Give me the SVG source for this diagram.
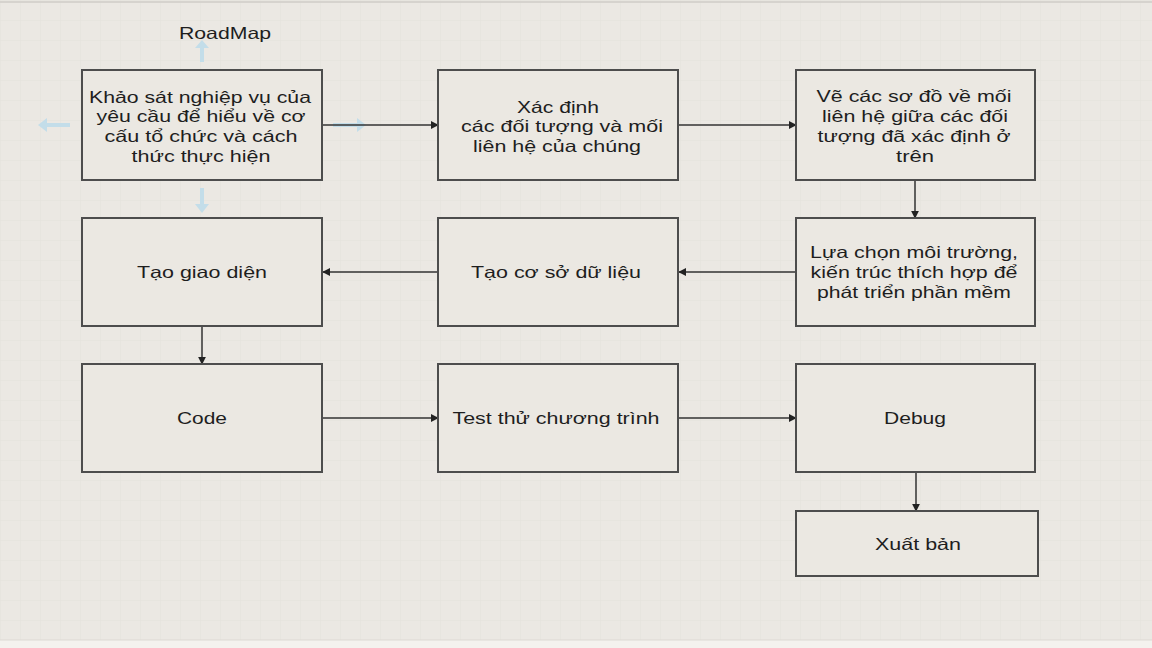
<svg xmlns="http://www.w3.org/2000/svg" width="1152" height="648" viewBox="0 0 1152 648">
<style>
.box{fill:#ebe8e2;stroke:#4d4d4d;stroke-width:2}
.t{font-family:"Liberation Sans",Arial,sans-serif;font-size:16.5px;fill:#1e1e1e;text-anchor:middle;dominant-baseline:central}
.c{stroke:#333;stroke-width:1.5;fill:none;marker-end:url(#ah)}
.hint{stroke:#c3dde9;stroke-width:4;fill:none}
.hinth{fill:#c3dde9}
</style>
<defs>
<marker id="ah" viewBox="0 0 10 10" refX="9" refY="5" markerWidth="8" markerHeight="8" orient="auto" markerUnits="userSpaceOnUse">
<path d="M0,0 L10,5 L0,10 z" fill="#222"/>
</marker>
<pattern id="grid" width="20" height="20" patternUnits="userSpaceOnUse">
<path d="M20,0 L0,0 0,20" fill="none" stroke="#e4e1db" stroke-width="1"/>
</pattern>
</defs>
<rect width="1152" height="648" fill="#ebe8e3"/>
<rect width="1152" height="648" fill="url(#grid)"/>
<line x1="0" y1="2" x2="1152" y2="2" stroke="#d6d3ce" stroke-width="2"/>
<rect x="0" y="640" width="1152" height="8" fill="#f4f2ee"/>
<line x1="0" y1="640" x2="1152" y2="640" stroke="#dcd9d3" stroke-width="1"/>

<text class="t" x="225" y="33" textLength="92" lengthAdjust="spacingAndGlyphs">RoadMap</text>

<g id="hints">
<line class="hint" x1="202" y1="62" x2="202" y2="47"/>
<path class="hinth" d="M195,48 L202,40 L209,48 z"/>
<line class="hint" x1="70" y1="125" x2="46" y2="125"/>
<path class="hinth" d="M47,118 L38,125 L47,132 z"/>
<line class="hint" x1="333" y1="125" x2="358" y2="125"/>
<path class="hinth" d="M357,118 L366,125 L357,132 z"/>
<line class="hint" x1="202" y1="188" x2="202" y2="205"/>
<path class="hinth" d="M195,204 L202,213 L209,204 z"/>
</g>

<g id="connectors">
<line class="c" x1="322" y1="125" x2="438" y2="125"/>
<line class="c" x1="678" y1="125" x2="796" y2="125"/>
<line class="c" x1="915" y1="180" x2="915" y2="218"/>
<line class="c" x1="796" y1="272" x2="679" y2="272"/>
<line class="c" x1="438" y1="272" x2="323" y2="272"/>
<line class="c" x1="202" y1="326" x2="202" y2="364"/>
<line class="c" x1="322" y1="418" x2="438" y2="418"/>
<line class="c" x1="678" y1="418" x2="796" y2="418"/>
<line class="c" x1="916" y1="472" x2="916" y2="511"/>
</g>

<g id="n1">
<rect class="box" x="82" y="70" width="240" height="110"/>
<text class="t" x="200" y="97" textLength="222" lengthAdjust="spacingAndGlyphs">Khảo sát nghiệp vụ của</text>
<text class="t" x="201" y="116" textLength="209" lengthAdjust="spacingAndGlyphs">yêu cầu để hiểu về cơ</text>
<text class="t" x="201" y="136" textLength="193" lengthAdjust="spacingAndGlyphs">cấu tổ chức và cách</text>
<text class="t" x="201" y="156" textLength="139" lengthAdjust="spacingAndGlyphs">thức thực hiện</text>
</g>
<g id="n2">
<rect class="box" x="438" y="70" width="240" height="110"/>
<text class="t" x="558" y="107" textLength="82" lengthAdjust="spacingAndGlyphs">Xác định</text>
<text class="t" x="562" y="126" textLength="202" lengthAdjust="spacingAndGlyphs">các đối tượng và mối</text>
<text class="t" x="557" y="146" textLength="168" lengthAdjust="spacingAndGlyphs">liên hệ của chúng</text>
</g>
<g id="n3">
<rect class="box" x="796" y="70" width="239" height="110"/>
<text class="t" x="914" y="96" textLength="195" lengthAdjust="spacingAndGlyphs">Vẽ các sơ đồ về mối</text>
<text class="t" x="915" y="116" textLength="186" lengthAdjust="spacingAndGlyphs">liên hệ giữa các đối</text>
<text class="t" x="914" y="136" textLength="193" lengthAdjust="spacingAndGlyphs">tượng đã xác định ở</text>
<text class="t" x="915" y="156" textLength="38" lengthAdjust="spacingAndGlyphs">trên</text>
</g>
<g id="n4">
<rect class="box" x="82" y="218" width="240" height="108"/>
<text class="t" x="202" y="272" textLength="130" lengthAdjust="spacingAndGlyphs">Tạo giao diện</text>
</g>
<g id="n5">
<rect class="box" x="438" y="218" width="240" height="108"/>
<text class="t" x="556" y="272" textLength="170" lengthAdjust="spacingAndGlyphs">Tạo cơ sở dữ liệu</text>
</g>
<g id="n6">
<rect class="box" x="796" y="218" width="239" height="108"/>
<text class="t" x="914" y="252" textLength="208" lengthAdjust="spacingAndGlyphs">Lựa chọn môi trường,</text>
<text class="t" x="914" y="272" textLength="207" lengthAdjust="spacingAndGlyphs">kiến trúc thích hợp để</text>
<text class="t" x="914" y="292" textLength="194" lengthAdjust="spacingAndGlyphs">phát triển phần mềm</text>
</g>
<g id="n7">
<rect class="box" x="82" y="364" width="240" height="108"/>
<text class="t" x="202" y="418" textLength="50" lengthAdjust="spacingAndGlyphs">Code</text>
</g>
<g id="n8">
<rect class="box" x="438" y="364" width="240" height="108"/>
<text class="t" x="556" y="418" textLength="207" lengthAdjust="spacingAndGlyphs">Test thử chương trình</text>
</g>
<g id="n9">
<rect class="box" x="796" y="364" width="239" height="108"/>
<text class="t" x="915" y="418" textLength="62" lengthAdjust="spacingAndGlyphs">Debug</text>
</g>
<g id="n10">
<rect class="box" x="796" y="511" width="242" height="65"/>
<text class="t" x="918" y="544" textLength="86" lengthAdjust="spacingAndGlyphs">Xuất bản</text>
</g>
</svg>
